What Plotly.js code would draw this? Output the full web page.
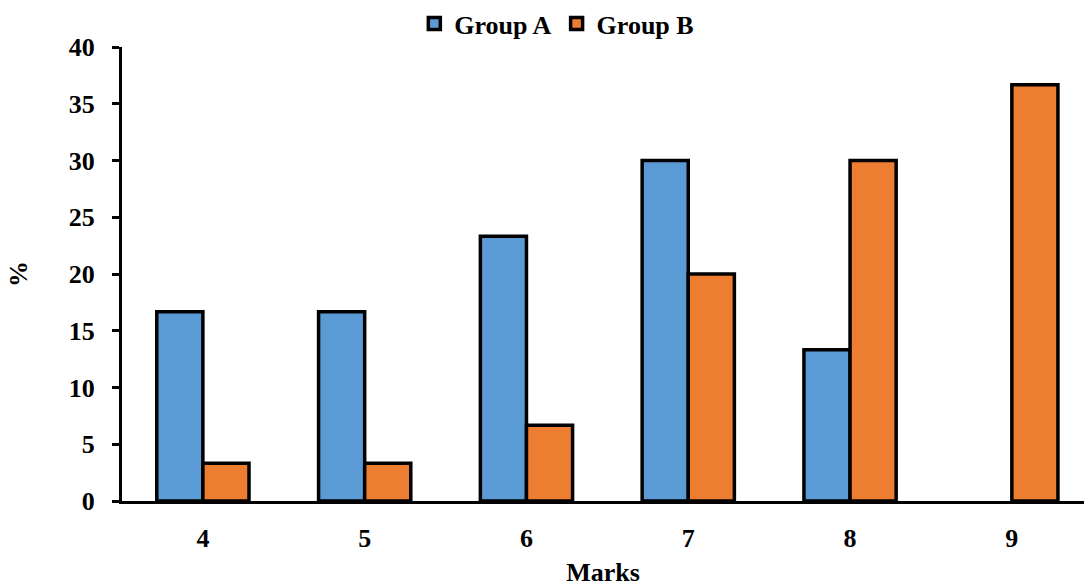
<!DOCTYPE html>
<html><head><meta charset="utf-8">
<script src="https://cdn.plot.ly/plotly-3.0.1.min.js"></script>
<style>body{margin:0;background:#fff}#c{width:1084px;height:587px}</style>
</head><body><div id="c"></div>
<script>
const categories = ["4","5","6","7","8","9"];
const groupA = [16.67, 16.67, 23.33, 30, 13.33, 0];
const groupB = [3.33, 3.33, 6.67, 20, 30, 36.67];
const yTicks = [0,5,10,15,20,25,30,35,40];

const fam = "Liberation Serif, Times New Roman, serif";
const traces = [
  {type:"bar", name:"Group A", x:categories, y:groupA,
   marker:{color:"#5B9BD5", line:{color:"#000", width:groupA.map(v => v > 0 ? 3.5 : 0)}}},
  {type:"bar", name:"Group B", x:categories, y:groupB,
   marker:{color:"#ED7D31", line:{color:"#000", width:3.5}}}
];
const layout = {
  width:1084, height:587,
  margin:{l:122, r:0, t:47, b:86},
  paper_bgcolor:"#fff", plot_bgcolor:"#fff",
  font:{family:fam, size:26, color:"#000"},
  barmode:"group", bargap:0.43, bargroupgap:0,
  showlegend:true,
  legend:{orientation:"h", x:0.452, xanchor:"center", y:1.0, yanchor:"bottom", itemwidth:30,
          font:{family:fam, size:26, color:"#000", weight:"bold"}, bgcolor:"rgba(0,0,0,0)"},
  xaxis:{type:"category", range:[-0.5, 5.446], showline:true, linecolor:"#000", linewidth:3,
         ticks:"", showgrid:false, zeroline:false, ticklabelstandoff:12,
         tickfont:{family:fam, size:26, color:"#000", weight:"bold"},
         title:{text:"<b>Marks</b>", font:{family:fam, size:26, color:"#000"}, standoff:18}},
  yaxis:{range:[0,40], tickvals:yTicks, showline:true, linecolor:"#000", linewidth:3,
         ticks:"outside", ticklen:7, tickwidth:3, tickcolor:"#000", showgrid:false, zeroline:false,
         ticklabelstandoff:12,
         tickfont:{family:fam, size:26, color:"#000", weight:"bold"},
         title:{text:"<b>%</b>", font:{family:fam, size:26, color:"#000"}, standoff:34}}
};
Plotly.newPlot("c", traces, layout, {displayModeBar:false, staticPlot:true});
</script></body></html>
